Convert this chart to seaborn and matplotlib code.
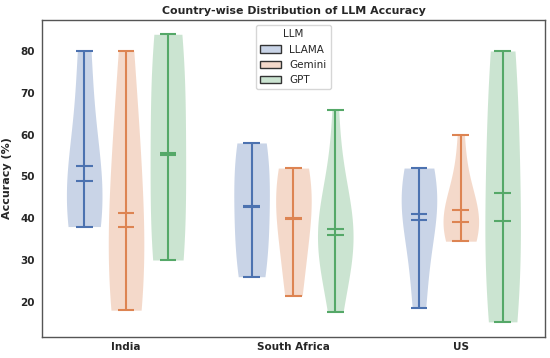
import numpy as np
import pandas as pd
import matplotlib
matplotlib.use("Agg")
import matplotlib.pyplot as plt
from matplotlib.patches import Patch
import seaborn as sns

countries = ["India", "South Africa", "US"]
llms = ["LLAMA", "Gemini", "GPT"]

india_llama = [38, 39, 40, 42, 49, 51, 54, 78.6, 80]
india_gemini = [18, 19, 22, 27, 38, 47.8, 53, 66, 80]
india_gpt = [30, 30.5, 32, 35, 52, 58, 75, 77.5, 81, 84]
sa_llama = [26, 27, 30, 37, 43, 51, 55, 57, 58]
sa_gemini = [21.5, 23, 35, 39, 40, 47, 50, 51.5, 52]
sa_gpt = [17.5, 26, 30, 33, 35, 36, 38, 40, 42, 49, 66]
us_llama = [18.5, 22, 38.5, 40.5, 41, 45.5, 48, 51, 52]
us_gemini = [34.5, 35.5, 37, 38, 39.2, 41, 44, 48, 60]
us_gpt = [15.2, 18, 25, 33, 39.3, 56, 70.5, 77, 80]

series = {
    ("India", "LLAMA"): india_llama, ("India", "Gemini"): india_gemini, ("India", "GPT"): india_gpt,
    ("South Africa", "LLAMA"): sa_llama, ("South Africa", "Gemini"): sa_gemini, ("South Africa", "GPT"): sa_gpt,
    ("US", "LLAMA"): us_llama, ("US", "Gemini"): us_gemini, ("US", "GPT"): us_gpt,
}

rows = []
for (c, m), vals in series.items():
    for v in vals:
        rows.append({"Country": c, "LLM": m, "Accuracy": v})
df = pd.DataFrame(rows)

sns.set_style("white")
plt.rcParams["font.family"] = ["DejaVu Sans"]

palette = sns.color_palette("deep", 3)
fig, ax = plt.subplots(figsize=(5.5, 3.58), dpi=100)

WIDTH = 0.75
GAP = 0.15
sns.violinplot(data=df, x="Country", y="Accuracy", hue="LLM", order=countries,
               hue_order=llms, palette=palette, saturation=1, cut=0, inner=None,
               width=WIDTH, gap=GAP, density_norm="width", linewidth=0,
               bw_adjust=1.4, alpha=0.3, legend=False, ax=ax)

cap = 0.05
for gi, c in enumerate(countries):
    for hi, m in enumerate(llms):
        vals = np.array(series[(c, m)])
        pos = gi + (hi - 1) * WIDTH / 3
        col = palette[hi]
        ax.vlines(pos, vals.min(), vals.max(), color=col, lw=1.5)
        for stat in (vals.min(), vals.max(), vals.mean(), np.median(vals)):
            ax.hlines(stat, pos - cap, pos + cap, color=col, lw=1.5)

ax.set_ylim(11.7, 87.4)
ax.set_xlim(-0.5, 2.5)
ax.set_yticks([20, 30, 40, 50, 60, 70, 80])
ax.set_xlabel("")
ax.set_ylabel("Accuracy (%)", fontsize=8, fontweight="bold", labelpad=6)
ax.set_title("Country-wise Distribution of LLM Accuracy", fontsize=7.9, fontweight="bold", pad=4)
for lab in ax.get_xticklabels() + ax.get_yticklabels():
    lab.set_fontweight("bold")
    lab.set_fontsize(7.5)
ax.tick_params(axis="y", length=0, pad=5.5)
ax.tick_params(axis="x", length=0, pad=4)
for s in ax.spines.values():
    s.set_color("#555555")
    s.set_linewidth(1.0)

handles = [Patch(facecolor=(*palette[i], 0.3), edgecolor="#333333", label=m) for i, m in enumerate(llms)]
leg = ax.legend(handles=handles, title="LLM", loc="upper center", fontsize=7.5,
                title_fontsize=7.5, frameon=True)

fig.subplots_adjust(left=0.077, right=0.99, top=0.944, bottom=0.06)
fig.savefig("out.png", dpi=100)
